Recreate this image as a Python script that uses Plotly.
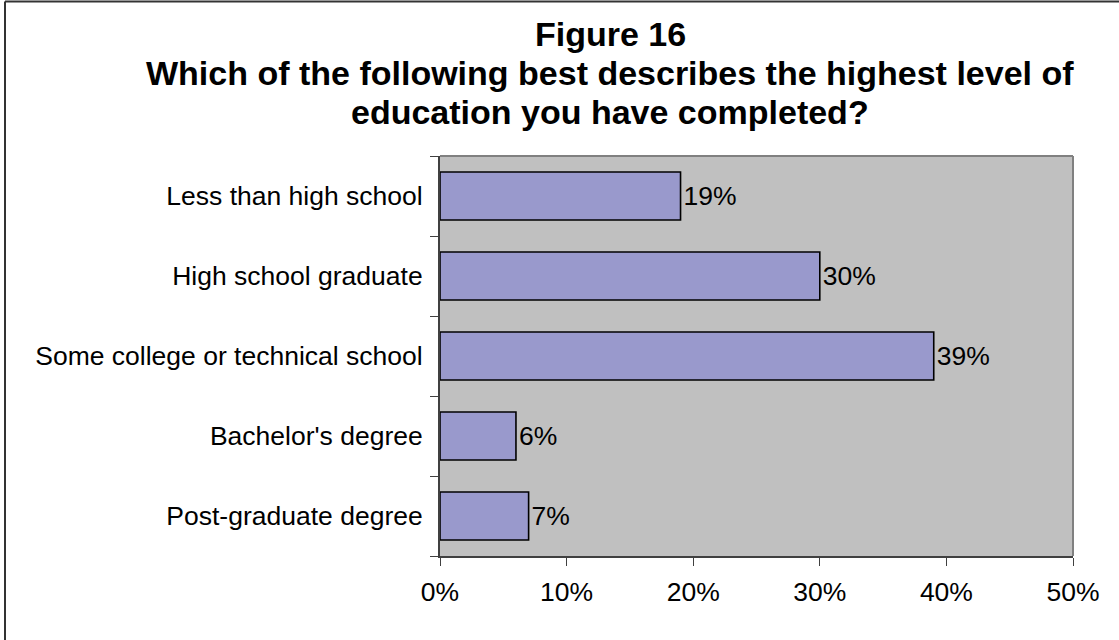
import plotly.graph_objects as go

# Survey responses: highest level of education completed
categories = [
    "Less than high school",
    "High school graduate",
    "Some college or technical school",
    "Bachelor's degree",
    "Post-graduate degree",
]
shares = [0.19, 0.30, 0.39, 0.06, 0.07]
x_ticks = [0.0, 0.1, 0.2, 0.3, 0.4, 0.5]

W, H = 1119, 640
L, R, T, B = 440, 46, 156, 84
pw, ph = W - L - R, H - T - B


def px_x(p):
    return (p - L) / pw


def px_y(p):
    return 1 - (p - T) / ph


FONT = "Liberation Sans, Arial, sans-serif"
LABEL_SIZE = 26.5

fig = go.Figure(
    go.Bar(
        x=shares,
        y=categories,
        orientation="h",
        width=0.6,
        marker=dict(color="#9999CC", line=dict(color="#000000", width=1.6)),
        text=[f"{v:.0%}" for v in shares],
        textposition="outside",
        textfont=dict(family=FONT, size=LABEL_SIZE, color="#000000"),
        cliponaxis=False,
        hoverinfo="skip",
    )
)

fig.update_layout(
    width=W,
    height=H,
    margin=dict(l=L, r=R, t=T, b=B, pad=0),
    paper_bgcolor="#FFFFFF",
    plot_bgcolor="#C0C0C0",
    showlegend=False,
    font=dict(family=FONT, size=LABEL_SIZE, color="#000000"),
    bargap=0.4,
)

fig.update_xaxes(
    range=[0, 0.5],
    tickvals=x_ticks,
    tickformat=".0%",
    ticks="outside",
    ticklen=8,
    tickwidth=1,
    tickcolor="#404040",
    showline=True,
    linecolor="#404040",
    linewidth=2,
    showgrid=False,
    zeroline=False,
    ticklabelstandoff=3,
    tickfont=dict(family=FONT, size=LABEL_SIZE, color="#000000"),
)

fig.update_yaxes(
    type="category",
    categoryorder="array",
    categoryarray=categories[::-1],
    tickson="boundaries",
    ticks="outside",
    ticklen=8,
    tickwidth=1,
    tickcolor="#404040",
    showline=True,
    linecolor="#404040",
    linewidth=2,
    showgrid=False,
    zeroline=False,
    ticklabelstandoff=10,
    tickfont=dict(family=FONT, size=LABEL_SIZE, color="#000000"),
)

# Top and right edges of the plotting area
fig.add_shape(type="line", xref="paper", yref="paper", x0=0, x1=1, y0=1, y1=1,
              line=dict(color="#808080", width=2))
fig.add_shape(type="line", xref="paper", yref="paper", x0=1, x1=1, y0=0, y1=1,
              line=dict(color="#808080", width=2))

# Outer chart frame (left and top edges)
fig.add_shape(type="line", xref="paper", yref="paper",
              x0=px_x(5), x1=px_x(5), y0=px_y(H + 20), y1=px_y(1.5),
              line=dict(color="#333333", width=2))
fig.add_shape(type="line", xref="paper", yref="paper",
              x0=px_x(5), x1=px_x(W + 20), y0=px_y(1.5), y1=px_y(1.5),
              line=dict(color="#333333", width=2))

title_lines = [
    "Figure 16",
    "Which of the following best describes the highest level of",
    "education you have completed?",
]
for i, line in enumerate(title_lines):
    fig.add_annotation(
        text=f"<b>{line}</b>",
        xref="paper", yref="paper",
        x=px_x(610), y=px_y(34 + 39 * i),
        xanchor="center", yanchor="middle",
        showarrow=False,
        font=dict(family=FONT, size=34, color="#000000"),
    )

fig.write_html("out.html")
